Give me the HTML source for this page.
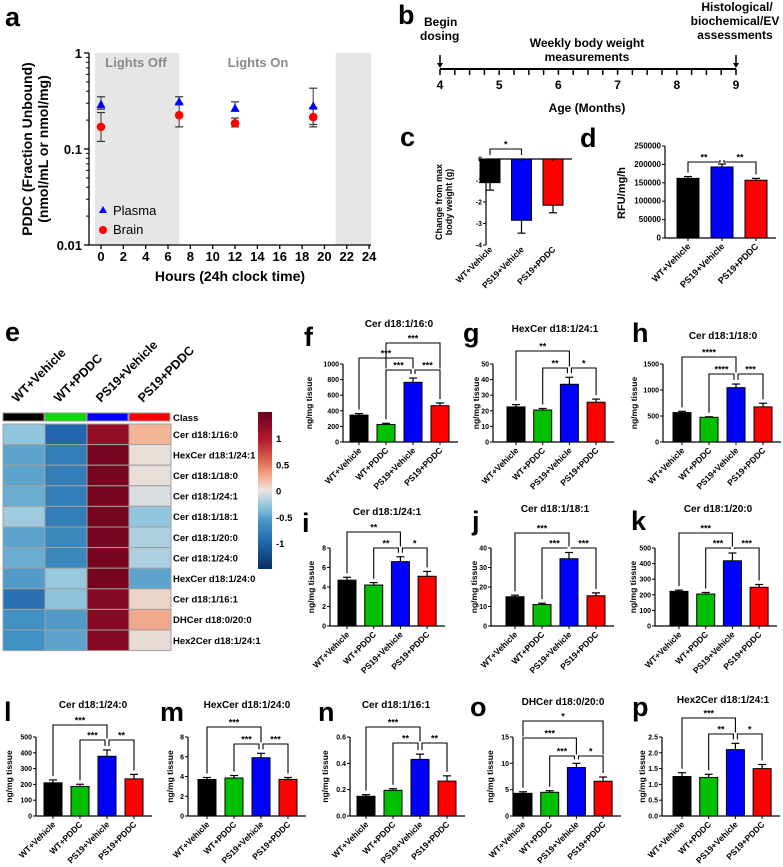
<!DOCTYPE html>
<html><head><meta charset="utf-8"><style>
html,body{margin:0;padding:0;background:#fff}
svg{display:block;font-family:"Liberation Sans",Arial,sans-serif}
</style></head><body>
<svg id="fig" width="783" height="867" viewBox="0 0 783 867" xmlns="http://www.w3.org/2000/svg">
<defs><linearGradient id="cbar" x1="0" y1="0" x2="0" y2="1">
<stop offset="0" stop-color="#67001f"/><stop offset="0.17" stop-color="#b2182b"/><stop offset="0.3" stop-color="#d6604d"/><stop offset="0.4" stop-color="#f4a582"/><stop offset="0.5" stop-color="#e8e4e2"/><stop offset="0.6" stop-color="#92c5de"/><stop offset="0.7" stop-color="#4393c3"/><stop offset="0.83" stop-color="#2166ac"/><stop offset="1" stop-color="#053061"/></linearGradient></defs>
</svg>
<script>
// ---------- DATA ----------
const groups4 = ["WT+Vehicle","WT+PDDC","PS19+Vehicle","PS19+PDDC"];
const groups3 = ["WT+Vehicle","PS19+Vehicle","PS19+PDDC"];
// panel a
const aHours = [0,7,12,19];
const aPlasma = [0.29,0.31,0.265,0.28];
const aPlasmaHi = [0.35,0.35,0.31,0.43];
const aPlasmaLo = [0.26,0.29,0.25,0.18];
const aBrain = [0.17,0.225,0.185,0.215];
const aBrainHi = [0.24,0.30,0.21,0.27];
const aBrainLo = [0.12,0.17,0.17,0.17];
const aXTicks = [0,2,4,6,8,10,12,14,16,18,20,22,24];
const aYTicks = [1,0.1,0.01];
const aYTickLabels = ["1","0.1","0.01"];
// panel b
const bMonths = [4,5,6,7,8,9];
// panel c
const cValues = [-1.1,-2.85,-2.15];
const cErrors = [0.35,0.6,0.35];
const cTicks = [0,-1,-2,-3,-4];
// panel d
const dValues = [162000,193000,157000];
const dErrors = [5000,8000,5000];
const dTicks = [0,50000,100000,150000,200000,250000];
// heatmap e
const eRows = ["Cer d18:1/16:0","HexCer d18:1/24:1","Cer d18:1/18:0","Cer d18:1/24:1","Cer d18:1/18:1","Cer d18:1/20:0","Cer d18:1/24:0","HexCer d18:1/24:0","Cer d18:1/16:1","DHCer d18:0/20:0","Hex2Cer d18:1/24:1"];
const eZ = [
 [-0.3,-1.0,1.2,0.3],[-0.5,-0.8,1.4,0.03],[-0.5,-0.8,1.4,0.03],[-0.45,-0.8,1.4,-0.05],
 [-0.25,-0.8,1.4,-0.3],[-0.5,-0.7,1.4,-0.2],[-0.45,-0.7,1.4,-0.2],[-0.55,-0.28,1.4,-0.5],
 [-0.9,-0.32,1.3,0.1],[-0.62,-0.55,1.3,0.35],[-0.62,-0.5,1.3,0.05]];
const eCbTicks = [1,0.5,0,-0.5,-1];
// bar panels
const fValues=[345,225,765,465], fErrors=[20,15,55,35], fTicks=[0,200,400,600,800,1000];
const gValues=[22.5,20.5,37,25.5], gErrors=[1.5,1,4.5,2], gTicks=[0,10,20,30,40,50];
const hValues=[565,475,1045,675], hErrors=[25,10,70,70], hTicks=[0,500,1000,1500];
const iValues=[4.7,4.2,6.6,5.1], iErrors=[0.3,0.25,0.5,0.5], iTicks=[0,2,4,6,8];
const jValues=[15,11,34.5,15.5], jErrors=[0.8,0.7,3.2,1.5], jTicks=[0,10,20,30,40];
const kValues=[222,205,418,248], kErrors=[8,10,50,18], kTicks=[0,100,200,300,400,500];
const lValues=[210,187,378,235], lErrors=[18,14,40,28], lTicks=[0,100,200,300,400,500];
const mValues=[3.7,3.85,5.9,3.7], mErrors=[0.2,0.25,0.45,0.2], mTicks=[0,2,4,6,8];
const nValues=[0.15,0.195,0.43,0.265], nErrors=[0.012,0.012,0.04,0.04], nTicks=[0,0.2,0.4,0.6];
const oValues=[4.3,4.5,9.2,6.6], oErrors=[0.3,0.3,0.8,0.8], oTicks=[0,5,10,15];
const pValues=[1.25,1.22,2.1,1.5], pErrors=[0.12,0.1,0.2,0.13], pTicks=[0,0.5,1,1.5,2,2.5];

// ---------- HELPERS ----------
const NS="http://www.w3.org/2000/svg";
const svg=document.getElementById('fig');
function mk(tag,attrs,parent){const e=document.createElementNS(NS,tag);for(const k in attrs)e.setAttribute(k,attrs[k]);(parent||svg).appendChild(e);return e;}
function tx(str,attrs,parent){const e=mk('text',attrs,parent);e.textContent=str;return e;}
function grp(name){const g=mk('g',{});


return g;}
function letter(ch,x,y){const t=tx(ch,{x:x,y:y,'font-size':27,'font-weight':'bold'});

}
const cols4=["#000000","#00c000","#0000ff","#ff0000"];
const cols3=["#000000","#0000ff","#ff0000"];
function fmt(v){if(Math.abs(v)<1&&v!==0)return v.toFixed(1);if(v===0)return "0";return String(v);}

// ---------- PANEL A ----------
(function(){
const g=grp('panel-a-chart');
const X=h=>101+h*11.17, Y=v=>53-Math.log10(v)*96;
mk('rect',{x:95,y:53,width:X(7)-95,height:192,fill:'#e6e6e6'},g);
mk('rect',{x:X(21),y:53,width:371-X(21),height:192,fill:'#e6e6e6'},g);
tx('Lights Off',{x:136,y:67,'text-anchor':'middle','font-size':13,'font-weight':'bold',fill:'#8a8a8a'},g);
tx('Lights On',{x:258,y:67,'text-anchor':'middle','font-size':13,'font-weight':'bold',fill:'#8a8a8a'},g);
mk('line',{x1:89,y1:53,x2:89,y2:245,stroke:'#000','stroke-width':1.3},g);
mk('line',{x1:89,y1:245,x2:371,y2:245,stroke:'#000','stroke-width':1.3},g);
aYTicks.forEach((v,i)=>{mk('line',{x1:84,y1:Y(v),x2:89,y2:Y(v),stroke:'#000','stroke-width':1.3},g);
const t=tx(aYTickLabels[i],{x:82,y:Y(v)+5,'text-anchor':'end','font-size':13,'font-weight':'bold'},g);

});
[0.01,0.1].forEach(d=>{for(let m=2;m<=9;m++){mk('line',{x1:86,y1:Y(d*m),x2:89,y2:Y(d*m),stroke:'#000'},g);}});
aXTicks.forEach(h=>{mk('line',{x1:X(h),y1:245,x2:X(h),y2:249,stroke:'#000','stroke-width':1.3},g);
const t=tx(String(h),{x:X(h),y:261,'text-anchor':'middle','font-size':13,'font-weight':'bold'},g);

});
const xt=tx('Hours (24h clock time)',{x:230,y:281,'text-anchor':'middle','font-size':14,'font-weight':'bold'},g);


const yt=tx('PDDC (Fraction Unbound)',{x:0,y:0,'text-anchor':'middle','font-size':14,'font-weight':'bold',transform:'translate(32,149) rotate(-90)'},g);


tx('(nmol/mL or nmol/mg)',{x:0,y:0,'text-anchor':'middle','font-size':14,'font-weight':'bold',transform:'translate(48,149) rotate(-90)'},g);
function errs(vals,hi,lo){vals.forEach((v,i)=>{const x=X(aHours[i]);
mk('line',{x1:x,y1:Y(hi[i]),x2:x,y2:Y(lo[i]),stroke:'#555','stroke-width':1.2},g);
mk('line',{x1:x-4,y1:Y(hi[i]),x2:x+4,y2:Y(hi[i]),stroke:'#333','stroke-width':1.2},g);
mk('line',{x1:x-4,y1:Y(lo[i]),x2:x+4,y2:Y(lo[i]),stroke:'#333','stroke-width':1.2},g);});}
errs(aPlasma,aPlasmaHi,aPlasmaLo);errs(aBrain,aBrainHi,aBrainLo);
aBrain.forEach((v,i)=>{const c=mk('circle',{cx:X(aHours[i]),cy:Y(v),r:4.3,fill:'#ff0000'},g);

});
aPlasma.forEach((v,i)=>{const x=X(aHours[i]),y=Y(v);const p=mk('polygon',{points:`${x},${y-5} ${x-4.5},${y+3.5} ${x+4.5},${y+3.5}`,fill:'#0000ff'},g);

});
mk('polygon',{points:'103,206 99,213 107,213',fill:'#0000ff'},g);
tx('Plasma',{x:113,y:215,'font-size':13},g);
mk('circle',{cx:103,cy:230,r:4,fill:'#ff0000'},g);
tx('Brain',{x:113,y:234,'font-size':13},g);
})();
letter('a',5,26);

// ---------- PANEL B ----------
(function(){
const g=grp('panel-b-timeline');
const X=m=>440+(m-4)*59.2;
mk('line',{x1:440,y1:69,x2:736,y2:69,stroke:'#000','stroke-width':2},g);
for(let w=0;w<=20;w++){const x=X(4+w/4);mk('line',{x1:x,y1:69,x2:x,y2:75,stroke:'#000','stroke-width':1.5},g);}
bMonths.forEach(m=>{const t=tx(String(m),{x:X(m),y:89,'text-anchor':'middle','font-size':12,'font-weight':'bold'},g);

});
tx('Age (Months)',{x:587,y:112,'text-anchor':'middle','font-size':12,'font-weight':'bold'},g);
[440,736].forEach(x=>{mk('line',{x1:x,y1:55,x2:x,y2:64,stroke:'#000','stroke-width':1.5},g);mk('polygon',{points:`${x-3},63 ${x+3},63 ${x},68`,fill:'#000'},g);});
tx('Begin',{x:424,y:26,'font-size':12,'font-weight':'bold'},g);
tx('dosing',{x:420,y:40,'font-size':12,'font-weight':'bold'},g);
tx('Weekly body weight',{x:587,y:47,'text-anchor':'middle','font-size':12,'font-weight':'bold'},g);
tx('measurements',{x:587,y:61,'text-anchor':'middle','font-size':12,'font-weight':'bold'},g);
tx('Histological/',{x:737,y:11,'text-anchor':'middle','font-size':12,'font-weight':'bold'},g);
tx('biochemical/EV',{x:735,y:25,'text-anchor':'middle','font-size':12,'font-weight':'bold'},g);
tx('assessments',{x:735,y:39,'text-anchor':'middle','font-size':12,'font-weight':'bold'},g);
})();
letter('b',398,24);

// ---------- BAR PANEL ----------
function barPanel(o){
const g=grp(o.name);
const Y=v=>o.r0+(v-o.d0)/(o.d1-o.d0)*(o.r1-o.r0);
const cx=o.values.map((v,i)=>o.c0+i*o.step);
const xEnd=cx[cx.length-1]+o.bw/2+9;
const top=Math.min(Y(o.ticks[0]),Y(o.ticks[o.ticks.length-1])), bot=Math.max(Y(o.ticks[0]),Y(o.ticks[o.ticks.length-1]));
mk('line',{x1:o.ax,y1:top,x2:o.ax,y2:bot,stroke:'#000','stroke-width':1.2},g);
mk('line',{x1:o.ax,y1:Y(0),x2:xEnd,y2:Y(0),stroke:'#000','stroke-width':1.2},g);
o.ticks.forEach(v=>{mk('line',{x1:o.ax-3,y1:Y(v),x2:o.ax,y2:Y(v),stroke:'#000'},g);
const t=tx(o.tickFmt?o.tickFmt(v):fmt(v),{x:o.ax-4,y:Y(v)+2.5,'text-anchor':'end','font-size':o.tfs||7,'font-weight':'bold'},g);

});
const errTop=[];
o.values.forEach((v,i)=>{
const y1=Y(v),y0=Y(0);
const r=mk('rect',{x:cx[i]-o.bw/2,y:Math.min(y1,y0),width:o.bw,height:Math.abs(y1-y0),fill:o.colors[i],stroke:'#000','stroke-width':1},g);


const ev=v>=0?v+o.errors[i]:v-o.errors[i];const ye=Y(ev);
mk('line',{x1:cx[i],y1:y1,x2:cx[i],y2:ye,stroke:'#000','stroke-width':1.2},g);
mk('line',{x1:cx[i]-4,y1:ye,x2:cx[i]+4,y2:ye,stroke:'#000','stroke-width':1.2},g);
mk('line',{x1:cx[i],y1:y0,x2:cx[i],y2:y0+3,stroke:'#000'},g);
errTop.push(Math.min(ye,y0,y1));
const lab=tx(o.cats[i],{x:cx[i]+3,y:o.labY,'text-anchor':'end','font-size':o.lfs||8.5,'font-weight':'bold',transform:`rotate(-45 ${cx[i]+3} ${o.labY})`},g);

});
(o.brackets||[]).forEach(b=>{const [i,j,y,lab]=b;
function legEnd(k){let e=errTop[k]-4;o.brackets.forEach(b2=>{if(b2!==b&&b2[2]>y&&(b2[0]===k||b2[1]===k))e=Math.min(e,b2[2]-1.5);});return e;}
const shL=o.brackets.some(b2=>b2!==b&&b2[2]===y&&b2[1]===i)?2:0;
const shR=o.brackets.some(b2=>b2!==b&&b2[2]===y&&b2[0]===j)?2:0;
const x1=cx[i]+shL,x2=cx[j]-shR;
const p=mk('polyline',{points:`${x1},${legEnd(i)} ${x1},${y} ${x2},${y} ${x2},${legEnd(j)}`,fill:'none',stroke:'#000','stroke-width':1.1},g);


tx(lab,{x:(x1+x2)/2,y:y-1.5,'text-anchor':'middle','font-size':9,'font-weight':'bold'},g);});
if(o.title){const t=tx(o.title,{x:o.tx,y:o.ty,'text-anchor':'middle','font-size':10,'font-weight':'bold'},g);

}
(o.ylab||[]).forEach((s,k)=>{const t=tx(s,{x:0,y:0,'text-anchor':'middle','font-size':o.yfs||8.5,'font-weight':'bold',transform:`translate(${o.ylx+k*10} ${o.yly}) rotate(-90)`},g);

});
}

// c
barPanel({name:'panel-c-chart',values:cValues,errors:cErrors,ticks:cTicks,cats:groups3,colors:cols3,d0:0,d1:-4,r0:159,r1:245,ax:486,c0:490,step:31.5,bw:20,labY:250,lfs:8.5,tfs:7,
brackets:[[0,1,149,'*']],ylab:['Change from max','body weight (g)'],ylx:442,yly:202,yfs:9});
// d
barPanel({name:'panel-d-chart',values:dValues,errors:dErrors,ticks:dTicks,cats:groups3,colors:cols3,d0:0,d1:250000,r0:238,r1:146,ax:665,c0:688,step:34,bw:22,labY:247,lfs:9,tfs:8,
brackets:[[0,1,162,'**'],[1,2,162,'**']],ylab:['RFU/mg/h'],ylx:625,yly:193,yfs:11});
letter('c',400,146);letter('d',580,147);

const R1={r0:442,r1:364,labY:451}, R2={r0:626,r1:548,labY:635}, R3={r0:816,r1:737,labY:825};
function P(name,row,values,errors,ticks,dmax,ax,c0,step,title,tx_,ty,ylx,brackets,tf){
barPanel({name:name,values:values,errors:errors,ticks:ticks,cats:groups4,colors:cols4,d0:0,d1:dmax,r0:row.r0,r1:row.r1,ax:ax,c0:c0,step:step,bw:18,labY:row.labY,
title:title,tx:tx_,ty:ty,ylab:['ng/mg tissue'],ylx:ylx,yly:(row.r0+row.r1)/2,brackets:brackets,tickFmt:tf});}
P('panel-f-chart',R1,fValues,fErrors,fTicks,1000,343,359,27,'Cer d18:1/16:0',399,327,312,[[1,3,343,'***'],[0,2,358,'***'],[1,2,370,'***'],[2,3,370,'***']]);
P('panel-g-chart',R1,gValues,gErrors,gTicks,50,493,516,26.7,'HexCer d18:1/24:1',555,332,479,[[0,2,351,'**'],[1,2,368,'**'],[2,3,368,'*']]);
P('panel-h-chart',R1,hValues,hErrors,hTicks,1500,663,682,27,'Cer d18:1/18:0',723,339,637,[[0,2,357,'****'],[1,2,374,'****'],[2,3,374,'***']]);
P('panel-i-chart',R2,iValues,iErrors,iTicks,8,330,347,26.7,'Cer d18:1/24:1',387,515,314,[[0,2,532,'**'],[1,2,548,'**'],[2,3,548,'*']]);
P('panel-j-chart',R2,jValues,jErrors,jTicks,40,491,515,27,'Cer d18:1/18:1',555,512,477,[[0,2,533,'***'],[1,2,548,'***'],[2,3,548,'***']]);
P('panel-k-chart',R2,kValues,kErrors,kTicks,500,655,679,26.7,'Cer d18:1/20:0',718,512,636,[[0,2,533,'***'],[1,2,548,'***'],[2,3,548,'***']]);
P('panel-l-chart',R3,lValues,lErrors,lTicks,500,36,53,27,'Cer d18:1/24:0',93,708,12,[[0,2,725,'***'],[1,2,740,'***'],[2,3,740,'**']]);
P('panel-m-chart',R3,mValues,mErrors,mTicks,8,188,207,27,'HexCer d18:1/24:0',247,708,173,[[0,2,727,'***'],[1,2,744,'***'],[2,3,744,'***']]);
P('panel-n-chart',R3,nValues,nErrors,nTicks,0.6,350,366,27,'Cer d18:1/16:1',396,708,328,[[0,2,727,'***'],[1,2,743,'**'],[2,3,743,'**']],v=>v.toFixed(1));
P('panel-o-chart',R3,oValues,oErrors,oTicks,15,513,523,26.7,'DHCer d18:0/20:0',563,705,493,[[0,3,721,'*'],[0,2,738,'***'],[1,2,756,'***'],[2,3,756,'*']]);
P('panel-p-chart',R3,pValues,pErrors,pTicks,2.5,662,682,26.7,'Hex2Cer d18:1/24:1',723,703,645,[[0,2,718,'***'],[1,2,734,'**'],[2,3,734,'*']],v=>v.toFixed(1));
letter('f',304,346);letter('g',463,342);letter('h',632,342);
letter('i',302,532);letter('j',472,530);letter('k',631,530);
letter('l',4,721);letter('m',160,721);letter('n',318,721);letter('o',470,716);letter('p',632,716);

// ---------- HEATMAP E ----------
(function(){
const g=grp('panel-e-heatmap');
const stops=[[-1.5,[5,48,97]],[-1,[33,102,172]],[-0.6,[67,147,195]],[-0.3,[146,197,222]],[0,[230,226,224]],[0.3,[244,180,150]],[0.65,[214,96,77]],[1,[178,24,43]],[1.5,[103,0,31]]];
function col(z){z=Math.max(-1.5,Math.min(1.5,z));for(let k=0;k<stops.length-1;k++){const [a,ca]=stops[k],[b,cb]=stops[k+1];if(z<=b){const t=(z-a)/(b-a);return 'rgb('+ca.map((c,m)=>Math.round(c+(cb[m]-c)*t)).join(',')+')';}}return 'rgb(103,0,31)';}
const cx0=3,cw=42,ry0=424,rh=20.6;
const classCols=["#000000","#00dd00","#0000ff","#ff0000"];
groups4.forEach((c,j)=>{const r=mk('rect',{x:cx0+j*cw,y:413,width:cw-1,height:8,fill:classCols[j],stroke:'#999','stroke-width':1},g);


const t=tx(c,{x:cx0+j*cw+14,y:403,'font-size':12.5,'font-weight':'bold',transform:`rotate(-45 ${cx0+j*cw+14} 403)`},g);

});
tx('Class',{x:173,y:421,'font-size':9.5,'font-weight':'bold'},g);
eRows.forEach((name,i)=>{eZ[i].forEach((z,j)=>{const r=mk('rect',{x:cx0+j*cw,y:ry0+i*rh,width:cw,height:rh,fill:col(z),stroke:'#a0a0a0','stroke-width':1},g);

});
const t=tx(name,{x:173,y:ry0+i*rh+rh/2+3.5,'font-size':9.5,'font-weight':'bold'},g);

});
const cb=mk('rect',{x:258,y:412,width:14,height:157,fill:'url(#cbar)'},g);


eCbTicks.forEach(v=>{tx(String(v),{x:276,y:490.5-v*52.5+4,'font-size':9.5,'font-weight':'bold'},g);});
})();
letter('e',5,341);
</script>
</body></html>
